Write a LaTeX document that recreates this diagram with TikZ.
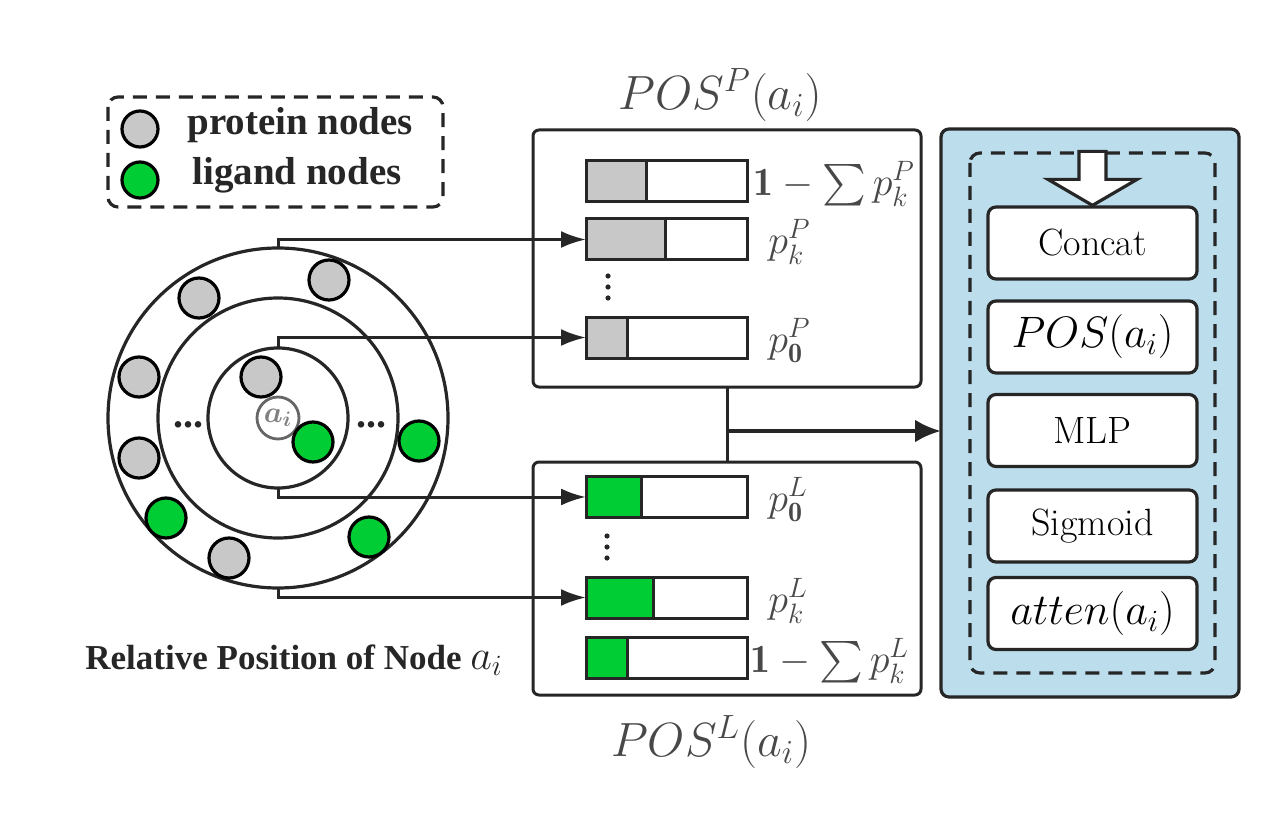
\RequirePackage{fix-cm}
\documentclass[tikz,border=0pt]{standalone}
\usepackage{amsmath}
\usepackage{fontspec}
\newfontfamily\timesfont{Liberation Serif}
\usetikzlibrary{arrows.meta}
\definecolor{gris}{RGB}{200,200,200}
\definecolor{vert}{RGB}{0,204,51}
\definecolor{bleu}{RGB}{188,221,236}
\definecolor{encre}{RGB}{38,38,38}
\definecolor{texte}{RGB}{72,72,72}
\begin{document}
\begin{tikzpicture}[x=0.5pt,y=-0.5pt]
	% Styles
	\tikzstyle{trait}=[draw=encre,line width=1.5pt]
	\tikzstyle{fleche}=[trait,-{Latex[length=12.5pt,width=8.5pt]}]
	\tikzstyle{grossefleche}=[draw=encre,line width=2.2pt,-{Latex[length=13pt,width=11.5pt]}]
	\tikzstyle{anneau}=[circle,draw=encre,line width=1.6pt,inner sep=0pt,outer sep=0pt]
	\tikzstyle{atome}=[circle,draw=black,line width=1.6pt,minimum size=20pt,inner sep=0pt]
	\tikzstyle{boite}=[trait,rounded corners=3pt,inner sep=0pt,outer sep=0pt,minimum width=194pt]
	\tikzstyle{barre}=[trait,fill=white,inner sep=0pt,outer sep=0pt,minimum width=80.5pt,minimum height=20.5pt]
	\tikzstyle{bloc}=[draw=encre,line width=1.6pt,fill=white,rounded corners=4pt,minimum width=104.5pt,minimum height=36pt,inner sep=0pt,font=\fontsize{19}{22}\selectfont]
	\tikzstyle{tirets}=[draw=encre,line width=1.6pt,dash pattern=on 7pt off 4.5pt,rounded corners=5pt]
	\tikzstyle{legende}=[anchor=west,inner sep=0pt,text=encre,font=\timesfont\bfseries\fontsize{19.5}{22}\selectfont]
	\tikzstyle{etiquette}=[anchor=west,inner sep=0pt,text=texte,font=\fontsize{20}{24}\selectfont]
	\tikzstyle{titre}=[inner sep=0pt,text=texte,font=\fontsize{24}{28}\selectfont]
	\tikzstyle{point}=[circle,fill=encre,inner sep=0pt,minimum size=2.6pt]
	% Cadre
	\useasboundingbox (0,0) rectangle (1288,828);
	% Legende
	\draw[tirets] (108,97) rectangle (443,207);
	\node[atome,fill=gris,minimum size=18pt] (legP) at (140,129) {};
	\node[atome,fill=vert,minimum size=18pt] (legL) at (140,180) {};
	\node[legende] (txtP) at (187,125) {protein nodes};
	\node[legende] (txtL) at (192,175) {ligand nodes};
	% Anneaux
	\node[anneau,minimum size=170pt] (ext) at (278,418) {};
	\node[anneau,minimum size=120pt] (mil) at (278,418) {};
	\node[anneau,minimum size=70pt] (int) at (278,418) {};
	\node[circle,draw=gray!80!black,line width=1.4pt,minimum size=21pt,inner sep=0pt,text=gray,font=\fontsize{15}{18}\selectfont] (ai) at (278,418) {$\boldsymbol{a_i}$};
	\node[atome,fill=gris] (p1) at (199,298) {};
	\node[atome,fill=gris] (p2) at (329,280) {};
	\node[atome,fill=gris] (p3) at (139,377) {};
	\node[atome,fill=gris] (p4) at (139,458) {};
	\node[atome,fill=gris] (p5) at (229,558) {};
	\node[atome,fill=gris] (p6) at (261,377) {};
	\node[atome,fill=vert] (l1) at (166,518) {};
	\node[atome,fill=vert] (l2) at (369,537) {};
	\node[atome,fill=vert] (l3) at (313,442) {};
	\node[atome,fill=vert] (l4) at (419,441) {};
	\node[text=encre,font=\timesfont\bfseries\fontsize{20}{22}\selectfont] (pts1) at (188,425) {...};
	\node[text=encre,font=\timesfont\bfseries\fontsize{20}{22}\selectfont] (pts2) at (371,425) {...};
	\node[anchor=west,inner sep=0pt,text=encre,font=\timesfont\bfseries\fontsize{17.5}{20}\selectfont] (rel) at (85,660) {Relative Position of Node \fontsize{21}{24}\selectfont$a_i$};
	% Boites POS
	\node[boite,minimum height=128.5pt] (boiteP) at (727,258.5) {};
	\node[boite,minimum height=116.5pt] (boiteL) at (727,578.5) {};
	\node[titre] (titreP) at (720,95) {$POS^P(a_i)$};
	\node[titre] (titreL) at (711,742) {$POS^L(a_i)$};
	% Barres
	\node[barre] (bP1) at (666.5,181) {};
	\node[barre] (bP2) at (666.5,239.5) {};
	\node[barre] (bP3) at (666.5,337.5) {};
	\node[barre] (bL1) at (666.5,497) {};
	\node[barre] (bL2) at (666.5,597.5) {};
	\node[barre] (bL3) at (666.5,657.5) {};
	\draw[trait,fill=gris] (bP1.south west) rectangle ([xshift=30pt]bP1.north west);
	\draw[trait,fill=gris] (bP2.south west) rectangle ([xshift=39.5pt]bP2.north west);
	\draw[trait,fill=gris] (bP3.south west) rectangle ([xshift=20.5pt]bP3.north west);
	\draw[trait,fill=vert] (bL1.south west) rectangle ([xshift=27.5pt]bL1.north west);
	\draw[trait,fill=vert] (bL2.south west) rectangle ([xshift=33.5pt]bL2.north west);
	\draw[trait,fill=vert] (bL3.south west) rectangle ([xshift=20.5pt]bL3.north west);
	\node[etiquette] (eP1) at (753,184) {$\mathbf{1}-\sum p_k^P$};
	\node[etiquette] (eP2) at (768,242) {$p_k^P$};
	\node[etiquette] (eP3) at (768,341) {$p_{\mathbf{0}}^P$};
	\node[etiquette] (eL1) at (768,500) {$p_{\mathbf{0}}^L$};
	\node[etiquette] (eL2) at (768,601) {$p_k^L$};
	\node[etiquette] (eL3) at (750,661) {$\mathbf{1}-\sum p_k^L$};
	\foreach \y in {276,287,298} \node[point] at (608,\y) {};
	\foreach \y in {536,547,558} \node[point] at (607,\y) {};
	% Panneau
	\node[draw=encre,line width=1.6pt,fill=bleu,rounded corners=4pt,minimum width=149pt,minimum height=284pt,inner sep=0pt,outer sep=0pt] (panneau) at (1090,413) {};
	\draw[tirets] (970,153) rectangle (1215,673);
	\node[bloc] (concat) at (1092.5,243) {Concat};
	\node[bloc,font=\fontsize{22}{24}\selectfont] (pos) at (1092.5,337) {$POS(a_i)$};
	\node[bloc] (mlp) at (1092.5,430.5) {MLP};
	\node[bloc] (sigmoid) at (1092.5,526) {Sigmoid};
	\node[bloc,font=\fontsize{22}{24}\selectfont] (atten) at (1092.5,613.5) {$atten(a_i)$};
	\draw[draw=encre,line width=1.6pt,fill=white] (concat.north) -- ++(-44.5,-26) -- ++(31,0) -- ++(0,-28) -- ++(27,0) -- ++(0,28) -- ++(31,0) -- cycle;
	% Arcs
	\draw[fleche] (ext.north) |- (bP2.west);
	\draw[fleche] (int.north) |- (bP3.west);
	\draw[fleche] (int.south) |- (bL1.west);
	\draw[fleche] (ext.south) |- (bL2.west);
	\draw[trait] (boiteP.south) -- (boiteL.north);
	\coordinate (milieu) at (727,431);
	\draw[grossefleche] (milieu) -- (milieu -| panneau.west);
\end{tikzpicture}
\end{document}
